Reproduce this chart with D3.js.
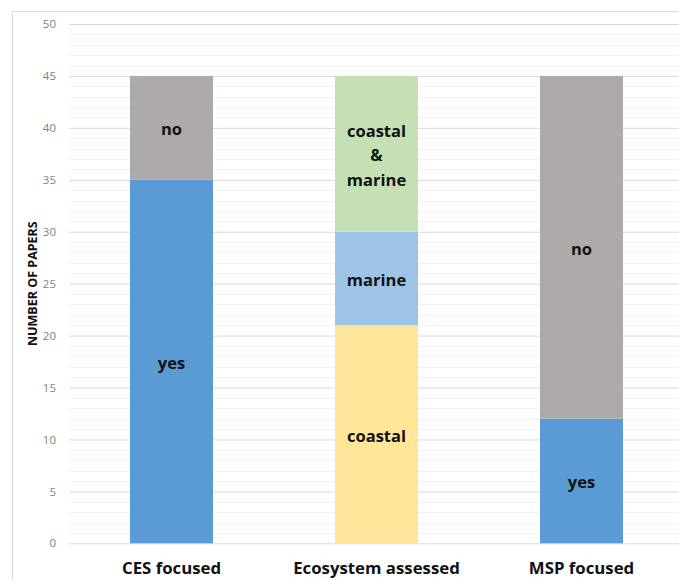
<!DOCTYPE html>
<html>
<head>
<meta charset="utf-8">
<script src="https://cdn.jsdelivr.net/npm/d3@7"></script>
<style>
  html, body { margin: 0; padding: 0; background: #fff; }
  svg { display: block; }
</style>
</head>
<body>
<svg id="chart" width="679" height="580"></svg>
<script>
// Stacked counts of reviewed papers per classification
const categories = ["CES focused", "Ecosystem assessed", "MSP focused"];
const cesSegments = [
  { label: "yes", value: 35 },
  { label: "no", value: 10 }
];
const ecosystemSegments = [
  { label: "coastal", value: 21 },
  { label: "marine", value: 9 },
  { label: "coastal\n&\nmarine", value: 15 }
];
const mspSegments = [
  { label: "yes", value: 12 },
  { label: "no", value: 33 }
];
const segmentColors = {
  yes: "#5b9bd5",
  no: "#aeaaaa",
  coastal: "#ffe699",
  marine: "#9dc3e6",
  "coastal\n&\nmarine": "#c5e0b4"
};
const yTicks = [0, 5, 10, 15, 20, 25, 30, 35, 40, 45, 50];
const yTitle = "NUMBER OF PAPERS";

const stacks = [cesSegments, ecosystemSegments, mspSegments];

const svg = d3.select("#chart");
const margin = { left: 69, right: -5, top: 24, bottom: 37 };
const W = 679, H = 580;

const x = d3.scaleBand()
  .domain(categories)
  .range([margin.left, W - margin.right])
  .paddingInner(0.595)
  .paddingOuter(0.2975);

const y = d3.scaleLinear()
  .domain([0, 50])
  .range([H - margin.bottom + 0.3, margin.top]);

// chart frame
svg.append("rect")
  .attr("x", 12.5).attr("y", 11.5)
  .attr("width", 700).attr("height", 600)
  .attr("fill", "none")
  .attr("stroke", "#d9d9d9")
  .attr("stroke-width", 1);

// minor gridlines (every unit)
svg.append("g")
  .selectAll("line")
  .data(d3.range(0, 51).filter(v => v % 5 !== 0))
  .join("line")
  .attr("x1", margin.left).attr("x2", W)
  .attr("y1", d => Math.round(y(d)) + 0.5)
  .attr("y2", d => Math.round(y(d)) + 0.5)
  .attr("stroke", "#f2f2f2")
  .attr("stroke-width", 1);

// major gridlines + tick labels via the axis generator
const yAxis = d3.axisLeft(y)
  .tickValues(yTicks)
  .tickSize(-(W - margin.left))
  .tickPadding(13);

const gy = svg.append("g")
  .attr("transform", `translate(${margin.left},0)`)
  .call(yAxis);
gy.select(".domain").remove();
gy.selectAll(".tick line").attr("stroke", "#d9d9d9").attr("stroke-width", 1);
gy.selectAll(".tick text")
  .attr("fill", "#7f7f7f")
  .style("font-family", "'Open Sans', sans-serif")
  .style("font-size", "11.5px");

// stacked bars
stacks.forEach((segs, i) => {
  const cat = categories[i];
  let base = 0;
  const g = svg.append("g");
  segs.forEach(s => {
    const y0 = base, y1 = base + s.value;
    base = y1;
    g.append("rect")
      .attr("x", x(cat))
      .attr("width", x.bandwidth())
      .attr("y", y(y1))
      .attr("height", y(y0) - y(y1))
      .attr("fill", segmentColors[s.label]);

    const lines = s.label.split("\n");
    const lh = 24.5;
    const cy = y((y0 + y1) / 2) + 1.5;
    const t = g.append("text")
      .attr("text-anchor", "middle")
      .attr("fill", "#111")
      .style("font-family", "'Open Sans', sans-serif")
      .style("font-weight", "700")
      .style("font-size", "16.5px");
    lines.forEach((ln, k) => {
      t.append("tspan")
        .attr("x", x(cat) + x.bandwidth() / 2)
        .attr("y", cy + (k - (lines.length - 1) / 2) * lh)
        .attr("dy", "0.35em")
        .text(ln);
    });
  });
});

// category labels
const xAxis = d3.axisBottom(x).tickSize(0).tickPadding(19);
const gx = svg.append("g")
  .attr("transform", `translate(0,${y(0)})`)
  .call(xAxis);
gx.select(".domain").remove();
gx.selectAll(".tick text")
  .attr("fill", "#111")
  .style("font-family", "'Open Sans', sans-serif")
  .style("font-weight", "700")
  .style("font-size", "16.8px");

// axis title
svg.append("text")
  .attr("transform", `translate(33,${(y(0) + y(50)) / 2}) rotate(-90)`)
  .attr("text-anchor", "middle")
  .attr("dy", "0.35em")
  .attr("fill", "#111")
  .style("font-family", "'Open Sans', sans-serif")
  .style("font-weight", "700")
  .style("font-size", "12.5px")
  .text(yTitle);
</script>
</body>
</html>
